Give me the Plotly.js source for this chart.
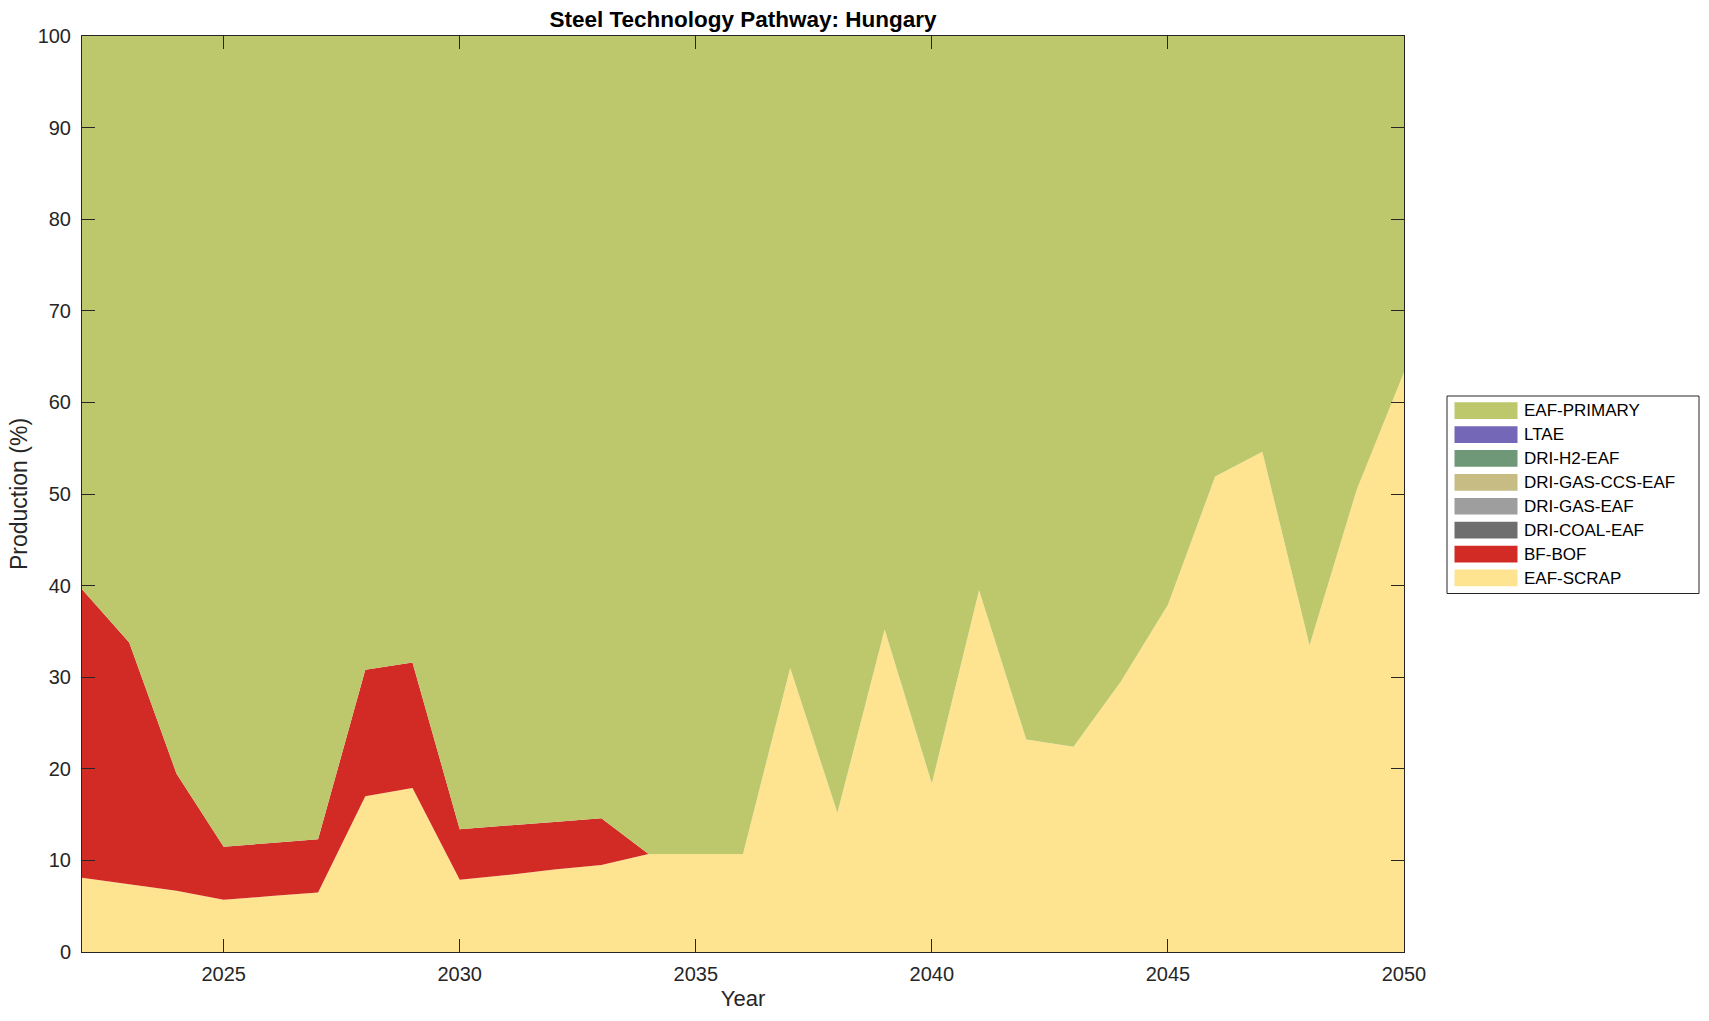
<!DOCTYPE html>
<html>
<head>
<meta charset="utf-8">
<script src="https://cdn.plot.ly/plotly-3.0.1.min.js"></script>
<style>
  html, body { margin: 0; padding: 0; background: #ffffff; }
  #chart { width: 1709px; height: 1021px; }
</style>
</head>
<body>
<div id="chart"></div>
<script>
const years = [2022, 2023, 2024, 2025, 2026, 2027, 2028, 2029, 2030, 2031, 2032, 2033, 2034, 2035, 2036,
               2037, 2038, 2039, 2040, 2041, 2042, 2043, 2044, 2045, 2046, 2047, 2048, 2049, 2050];

const eafScrap = [8.1, 7.4, 6.7, 5.7, 6.1, 6.5, 17.0, 17.9, 7.9, 8.4, 9.0, 9.5, 10.7, 10.7, 10.7,
                  31.0, 15.2, 35.2, 18.4, 39.5, 23.2, 22.4, 29.5, 37.9, 51.9, 54.6, 33.5, 50.5, 63.3];
const bfBof = [31.5, 26.4, 12.8, 5.8, 5.8, 5.8, 13.8, 13.7, 5.5, 5.4, 5.2, 5.1, 0, 0, 0,
               0, 0, 0, 0, 0, 0, 0, 0, 0, 0, 0, 0, 0, 0];
const driCoalEaf = [0, 0, 0, 0, 0, 0, 0, 0, 0, 0, 0, 0, 0, 0, 0, 0, 0, 0, 0, 0, 0, 0, 0, 0, 0, 0, 0, 0, 0];
const driGasEaf = [0, 0, 0, 0, 0, 0, 0, 0, 0, 0, 0, 0, 0, 0, 0, 0, 0, 0, 0, 0, 0, 0, 0, 0, 0, 0, 0, 0, 0];
const driGasCcsEaf = [0, 0, 0, 0, 0, 0, 0, 0, 0, 0, 0, 0, 0, 0, 0, 0, 0, 0, 0, 0, 0, 0, 0, 0, 0, 0, 0, 0, 0];
const driH2Eaf = [0, 0, 0, 0, 0, 0, 0, 0, 0, 0, 0, 0, 0, 0, 0, 0, 0, 0, 0, 0, 0, 0, 0, 0, 0, 0, 0, 0, 0];
const ltae = [0, 0, 0, 0, 0, 0, 0, 0, 0, 0, 0, 0, 0, 0, 0, 0, 0, 0, 0, 0, 0, 0, 0, 0, 0, 0, 0, 0, 0];
const eafPrimary = [60.4, 66.2, 80.5, 88.5, 88.1, 87.7, 69.2, 68.4, 86.6, 86.2, 85.8, 85.4, 89.3, 89.3, 89.3,
                    69.0, 84.8, 64.8, 81.6, 60.5, 76.8, 77.6, 70.5, 62.1, 48.1, 45.4, 66.5, 49.5, 36.7];

const seriesNames = ['EAF-SCRAP', 'BF-BOF', 'DRI-COAL-EAF', 'DRI-GAS-EAF', 'DRI-GAS-CCS-EAF', 'DRI-H2-EAF', 'LTAE', 'EAF-PRIMARY'];
const seriesValues = [eafScrap, bfBof, driCoalEaf, driGasEaf, driGasCcsEaf, driH2Eaf, ltae, eafPrimary];
const seriesColors = ['#FEE391', '#D22B26', '#6E6E6E', '#9E9E9E', '#C7BC83', '#6F9878', '#7467B8', '#BDC76B'];

const xTicks = [2025, 2030, 2035, 2040, 2045, 2050];
const yTicks = [0, 10, 20, 30, 40, 50, 60, 70, 80, 90, 100];

const traces = seriesNames.map((name, i) => ({
  type: 'scatter',
  x: years,
  y: seriesValues[i],
  name: name,
  stackgroup: 'one',
  mode: 'none',
  fillcolor: seriesColors[i],
  hoverinfo: 'x+y+name',
  showlegend: false
}));

const fontFam = 'Liberation Sans, Arial, Helvetica, sans-serif';

// plot-area geometry in pixels (for placing the legend box drawn with shapes)
const W = 1709, H = 1021;
const M = { l: 82, r: 305, t: 36, b: 69 };
const pw = W - M.l - M.r, ph = H - M.t - M.b;
const px2x = px => (px - M.l) / pw;
const py2y = py => (H - M.b - py) / ph;

const legendOrder = seriesNames.map((n, i) => i).reverse();
const shapes = [{
  type: 'rect', xref: 'paper', yref: 'paper',
  x0: px2x(1447), x1: px2x(1699), y0: py2y(593.5), y1: py2y(396),
  line: { color: '#262626', width: 1 }, fillcolor: '#ffffff', layer: 'above'
}];
const annotations = [];
legendOrder.forEach((si, k) => {
  const top = 402.3 + k * 23.9;
  shapes.push({
    type: 'rect', xref: 'paper', yref: 'paper',
    x0: px2x(1454.5), x1: px2x(1517.5), y0: py2y(top + 16.7), y1: py2y(top),
    line: { width: 0 }, fillcolor: seriesColors[si], layer: 'above'
  });
  annotations.push({
    xref: 'paper', yref: 'paper', x: px2x(1522), y: py2y(top + 8.5),
    xanchor: 'left', yanchor: 'middle', showarrow: false,
    text: seriesNames[si],
    font: { family: fontFam, size: 17, color: '#000000' }
  });
});

const layout = {
  width: W,
  height: H,
  paper_bgcolor: '#ffffff',
  plot_bgcolor: '#ffffff',
  font: { family: fontFam, size: 20, color: '#262626' },
  margin: { l: M.l, r: M.r, t: M.t, b: M.b, pad: 0 },
  title: {
    text: '<b>Steel Technology Pathway: Hungary</b>',
    font: { family: fontFam, size: 22.5, color: '#000000' },
    x: 0.5 * (M.l + W - M.r) / W,
    xanchor: 'center',
    y: 1 - 19 / H,
    yanchor: 'middle'
  },
  xaxis: {
    range: [2022, 2050],
    tickvals: xTicks,
    ticktext: xTicks.map(String),
    ticks: 'inside',
    ticklen: 13,
    tickwidth: 1,
    tickcolor: '#262626',
    showline: true,
    linecolor: '#262626',
    linewidth: 1,
    mirror: 'ticks',
    showgrid: false,
    zeroline: false,
    ticklabelstandoff: 4,
    tickfont: { family: fontFam, size: 20, color: '#262626' },
    title: { text: 'Year', font: { family: fontFam, size: 22, color: '#262626' }, standoff: 6 }
  },
  yaxis: {
    range: [0, 100],
    tickvals: yTicks,
    ticktext: yTicks.map(String),
    ticks: 'inside',
    ticklen: 13,
    tickwidth: 1,
    tickcolor: '#262626',
    showline: true,
    linecolor: '#262626',
    linewidth: 1,
    mirror: 'ticks',
    showgrid: false,
    zeroline: false,
    ticklabelstandoff: 6,
    tickfont: { family: fontFam, size: 20, color: '#262626' },
    title: { text: 'Production (%)', font: { family: fontFam, size: 23, color: '#262626' }, standoff: 3 }
  },
  showlegend: false,
  shapes: shapes,
  annotations: annotations
};

Plotly.newPlot('chart', traces, layout, { displayModeBar: false, staticPlot: true });
</script>
</body>
</html>
